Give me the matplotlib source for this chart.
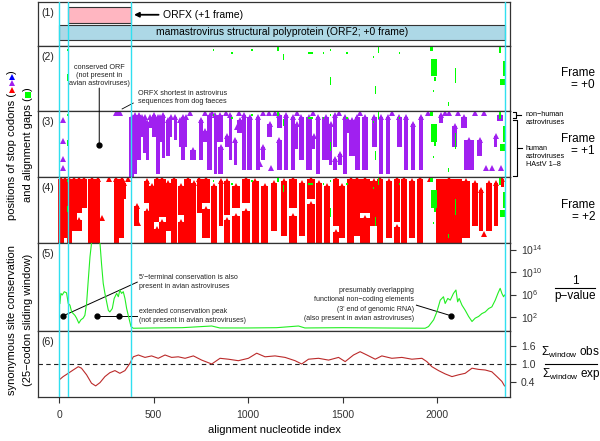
import numpy as np
import matplotlib
matplotlib.use("Agg")
import matplotlib.pyplot as plt
from matplotlib.lines import Line2D
from matplotlib.patches import Rectangle, ConnectionPatch

plt.rcParams['font.family'] = ['Liberation Sans', 'DejaVu Sans']
plt.rcParams['mathtext.fontset'] = 'custom'
plt.rcParams['mathtext.rm'] = 'Liberation Sans'
plt.rcParams['mathtext.it'] = 'Liberation Sans:italic'

# ---- data (alignment nucleotide coordinates) ----
guide_nt = [0, 47, 381, 2356]
orfx_span = (47, 381)
orf2_span = (0, 2356)

# alignment gaps: (start, end, first row, last row)
gaps = [(44, 52, 1, 1), (44, 52, 12, 14), (812, 820, 1, 1), (910, 918, 2, 2),
        (1016, 1024, 1, 1), (1150, 1162, 0, 1), (1182, 1190, 3, 5),
        (1318, 1345, 2, 2), (1395, 1403, 2, 2), (1431, 1439, 1, 1),
        (1431, 1439, 13, 16), (1520, 1528, 2, 2), (1660, 1668, 4, 4),
        (1686, 1694, 0, 2), (1669, 1677, 17, 20), (1796, 1804, 2, 2),
        (1962, 1978, 0, 1), (1965, 2000, 5, 12), (1985, 1995, 13, 14),
        (1976, 1984, 19, 19), (2093, 2101, 9, 15), (2056, 2064, 24, 25),
        (2325, 2340, 0, 2), (2348, 2356, 6, 12), (2330, 2356, 14, 16)]

# stop codons in frame +1: runs (start, end, first row, last row)
stops_f1 = [(375, 392, 2, 27), (393, 410, 1, 26), (415, 430, 1, 20), (432, 442, 2, 10),
            (445, 458, 2, 17), (460, 472, 4, 20), (476, 486, 2, 6), (495, 508, 1, 10),
            (515, 530, 2, 26), (532, 540, 2, 12), (545, 558, 1, 19), (570, 582, 3, 18),
            (586, 596, 2, 10), (610, 620, 2, 11), (635, 648, 3, 14), (650, 662, 2, 20),
            (665, 675, 2, 14), (695, 722, 16, 20), (743, 760, 3, 20), (764, 778, 8, 12),
            (787, 805, 1, 24), (820, 832, 1, 26), (840, 866, 1, 12), (845, 866, 15, 26),
            (880, 893, 10, 14), (900, 912, 1, 20), (926, 938, 12, 22), (946, 963, 3, 8),
            (970, 983, 1, 24), (998, 1016, 2, 24), (1042, 1060, 2, 24),
            (1069, 1087, 15, 20), (1104, 1122, 5, 10), (1156, 1175, 1, 6),
            (1156, 1175, 12, 24), (1192, 1210, 1, 24), (1228, 1246, 2, 24),
            (1251, 1263, 5, 15), (1272, 1290, 2, 20), (1307, 1334, 2, 24),
            (1343, 1352, 10, 15), (1360, 1378, 2, 26), (1396, 1422, 2, 20),
            (1431, 1440, 5, 22), (1449, 1466, 1, 14), (1449, 1466, 20, 24),
            (1480, 1493, 18, 22), (1502, 1519, 2, 26), (1523, 1533, 3, 8),
            (1537, 1563, 3, 18), (1566, 1588, 2, 24), (1606, 1632, 2, 24),
            (1659, 1677, 2, 14), (1694, 1712, 2, 26), (1730, 1747, 2, 26),
            (1791, 1809, 2, 14), (1827, 1844, 2, 24), (1862, 1880, 5, 24),
            (1906, 1924, 2, 24), (2012, 2030, 1, 4), (2083, 2100, 6, 14),
            (2127, 2153, 2, 6), (2145, 2189, 12, 24), (2215, 2233, 12, 18),
            (2303, 2315, 10, 14), (2321, 2347, 1, 3)]
single_f1 = [(21, 3), (21, 12), (21, 20), (21, 24), (300, 0), (312, 0), (324, 0),
             (690, 0), (770, 0), (810, 0), (880, 0), (950, 0), (1080, 0), (1110, 0),
             (1122, 24), (1140, 0), (1260, 0), (1345, 0), (1480, 0), (1590, 0),
             (1760, 0), (1950, 0), (2040, 0), (2060, 0), (2110, 0), (2200, 0),
             (2250, 0), (2259, 24), (2290, 24), (2335, 24), (1060, 22), (940, 6)]

# stop codons in frame +2
stops_f2 = [(-2, 21, 0, 27), (21, 40, 0, 25), (44, 65, 0, 27), (65, 92, 0, 22),
            (92, 118, 0, 14), (92, 118, 18, 22), (118, 145, 0, 12), (154, 190, 0, 27),
            (198, 215, 0, 27), (291, 313, 0, 27), (321, 339, 0, 25), (339, 351, 2, 8),
            (401, 418, 12, 20), (454, 472, 1, 10), (454, 472, 14, 27), (480, 498, 3, 27),
            (507, 524, 0, 18), (507, 524, 22, 27), (533, 560, 0, 16), (533, 560, 19, 27),
            (568, 586, 2, 22), (595, 621, 0, 27), (630, 657, 3, 15), (630, 657, 19, 27),
            (666, 692, 0, 27), (701, 722, 2, 27), (730, 752, 0, 14), (760, 796, 0, 10),
            (760, 796, 13, 25), (804, 831, 3, 27), (849, 866, 1, 20), (875, 902, 1, 15),
            (875, 902, 18, 27), (919, 954, 3, 12), (919, 954, 16, 27), (972, 1007, 0, 10),
            (972, 1007, 14, 27), (1025, 1052, 1, 27), (1069, 1104, 3, 27),
            (1122, 1148, 2, 22), (1175, 1202, 1, 24), (1219, 1254, 0, 12),
            (1219, 1254, 16, 27), (1272, 1299, 2, 24), (1316, 1352, 0, 8),
            (1316, 1352, 11, 27), (1360, 1387, 2, 27), (1404, 1431, 3, 27),
            (1449, 1475, 0, 20), (1449, 1475, 23, 27), (1484, 1510, 3, 25),
            (1528, 1555, 0, 27), (1562, 1588, 0, 24), (1597, 1641, 0, 14),
            (1597, 1641, 17, 27), (1650, 1677, 1, 20), (1686, 1712, 0, 27),
            (1730, 1756, 1, 25), (1774, 1800, 0, 18), (1774, 1800, 21, 27),
            (1809, 1835, 0, 27), (1853, 1880, 1, 25), (1897, 1924, 0, 27),
            (1994, 2127, 0, 27), (2136, 2171, 1, 25), (2189, 2215, 2, 20),
            (2224, 2241, 5, 22), (2259, 2286, 2, 22), (2303, 2321, 2, 20),
            (2338, 2352, 0, 3)]
single_f2 = [(224, 17), (365, 0), (418, 19), (262, 0), (1910, 0), (1960, 0), (2250, 24)]

# synonymous site conservation, log10(1/p)
cons_x = [4, 9, 16, 27, 39, 48, 57, 66, 83, 92, 104, 115, 127, 136, 145, 154, 163, 171,
          180, 198, 216, 224, 233, 242, 251, 260, 268, 281, 291, 304, 313, 321, 330,
          339, 348, 357, 369, 380, 392, 500, 650, 807, 850, 1000, 1150, 1266, 1300,
          1500, 1700, 1936, 1954, 1981, 1998, 2016, 2033, 2042, 2056, 2069, 2086, 2099,
          2108, 2116, 2131, 2148, 2166, 2184, 2201, 2219, 2236, 2254, 2272, 2289, 2307,
          2321, 2333, 2342, 2351, 2356]
cons_logp = [4.4, 6.2, 5.9, 6.5, 6.3, 4.4, 4.1, 2.9, 2.3, 1.8, 0.9, 1.5, 1.8, 2.3, 4.4,
             8.6, 12.7, 15.1, 16.5, 17.0, 15.1, 11.5, 8.0, 6.2, 4.7, 3.2, 2.9, 3.5, 5.3,
             6.2, 5.6, 6.8, 6.2, 6.5, 5.3, 3.5, 1.8, 0.3, 0.0, 0.05, 0.1, 0.4, 0.05, 0.05,
             0.1, 0.4, 0.05, 0.1, 0.05, 0.0, 0.3, 1.5, 2.9, 5.0, 5.6, 4.4, 5.3, 5.0, 6.2,
             6.8, 4.7, 5.3, 4.1, 3.2, 2.1, 1.2, 1.8, 2.1, 2.6, 2.9, 3.5, 3.8, 5.0, 6.2,
             7.1, 6.2, 5.6, 5.9]

# obs / exp ratio
ratio_x = [4, 21, 48, 74, 101, 118, 145, 171, 193, 216, 242, 268, 295, 321, 348, 374,
           392, 419, 454, 489, 524, 560, 595, 630, 666, 710, 754, 807, 851, 895, 948,
           1001, 1045, 1089, 1142, 1195, 1248, 1283, 1319, 1372, 1425, 1478, 1513, 1557,
           1592, 1628, 1672, 1707, 1760, 1813, 1866, 1919, 1945, 1972, 2007, 2042, 2078,
           2113, 2148, 2184, 2219, 2254, 2289, 2316, 2342, 2356]
ratio_y = [0.49, 0.58, 0.69, 0.80, 0.91, 0.86, 0.64, 0.36, 0.27, 0.38, 0.58, 0.71, 0.78,
           0.69, 0.78, 1.02, 1.24, 1.30, 1.22, 1.27, 1.19, 1.30, 1.22, 1.24, 1.19, 1.27,
           1.13, 1.00, 1.19, 1.16, 1.11, 1.19, 1.36, 1.24, 1.27, 1.22, 1.11, 1.00, 1.16,
           1.19, 1.13, 1.22, 1.08, 1.30, 1.41, 1.30, 1.16, 1.27, 1.19, 1.22, 1.16, 1.19,
           1.08, 0.91, 0.78, 0.67, 0.58, 0.64, 0.69, 0.86, 0.82, 0.80, 0.74, 0.58, 0.42,
           0.27]

PURPLE = '#A020F0'
RED = '#FF0000'
GREEN = '#00FF00'
CYAN = '#30E0F0'
FRAME = '#333333'

fig = plt.figure(figsize=(6, 4.41), dpi=100)
W, H = 600.0, 441.0


def fx(x):
    return x / W


def fy(y):
    return 1 - y / H


panel_px = [(2, 46), (46, 111), (111, 177), (177, 243), (243, 331), (331, 397)]
axes = []
for i, (t, b) in enumerate(panel_px):
    ax = fig.add_axes([38 / W, 1 - b / H, 472 / W, (b - t) / H])
    ax.set_xlim(-112, 2385)
    ax.set_xticks([])
    ax.set_yticks([])
    for s in ax.spines.values():
        s.set_color(FRAME)
        s.set_linewidth(0.9)
    for g in guide_nt:
        ax.axvline(g, color=CYAN, lw=1.0, zorder=5)
    ax.annotate('(%d)' % (i + 1), xy=(0, 1), xycoords='axes fraction',
                xytext=(2.5, -4.5), textcoords='offset points', ha='left', va='top',
                fontsize=7.5, color='#222222')
    axes.append(ax)
ax1, ax2, ax3, ax4, ax5, ax6 = axes

# (1) ORF boxes
ax1.set_ylim(1, 0)
ax1.add_patch(Rectangle((orfx_span[0], 0.11), orfx_span[1] - orfx_span[0], 0.37,
                        fc='#FFB6C1', ec=FRAME, lw=0.8, zorder=2))
ax1.add_patch(Rectangle((orf2_span[0], 0.52), orf2_span[1] - orf2_span[0], 0.34,
                        fc='#ADD8E6', ec=FRAME, lw=0.8, zorder=2))
ax1.text(sum(orf2_span) / 2, 0.69, 'mamastrovirus structural polyprotein (ORF2; +0 frame)',
         ha='center', va='center', fontsize=7.5, zorder=6)
ax1.annotate('ORFX (+1 frame)', xy=(396, 0.29), xytext=(548, 0.29), ha='left',
             va='center', fontsize=7.5,
             arrowprops=dict(arrowstyle='-|>', color='black', lw=1.3,
                             mutation_scale=7, shrinkA=1, shrinkB=0))

PAD = 3  # extra half-width of the triangle markers, in nt


def draw_panel(ax, runs, singles, color):
    ax.set_ylim(27.7, -0.9)
    for s, e, t, b in runs:
        ax.bar(s - PAD, b - t + 0.7, width=e - s + 2 * PAD, bottom=t - 0.2, align='edge',
               color=color, lw=0, zorder=2)
        ax.plot((s + e) / 2, t - 0.2, marker='^', ms=4.2, color=color, ls='none',
                mew=0, zorder=2)
    if singles:
        sx, sy = zip(*singles)
        ax.plot(sx, sy, marker='^', ms=3.8, color=color, ls='none', mew=0, zorder=2)
    for s, e, t, b in gaps:
        ax.bar(s, b - t + 0.8, width=e - s, bottom=t - 0.4, align='edge',
               color=GREEN, lw=0, zorder=3)


draw_panel(ax2, [], [], PURPLE)
draw_panel(ax3, stops_f1, single_f1, PURPLE)
draw_panel(ax4, stops_f2, single_f2, RED)

# annotations in (2)/(3)
ax2.text(212, 12, 'conserved ORF\n(not present in\navian astroviruses)', ha='center',
         va='center', fontsize=5.2, linespacing=1.15, color='#222222')
ax3.plot(212, 14, 'o', ms=3.5, color='black', zorder=6)
fig.add_artist(ConnectionPatch(xyA=(212, 17.6), coordsA=ax2.transData,
                               xyB=(212, 14), coordsB=ax3.transData,
                               color='black', lw=0.7))
ax2.text(418, 21.6, 'ORFX shortest in astrovirus\nsequences from dog faeces',
         ha='left', va='center', fontsize=5.2, linespacing=1.15, color='#222222')
ax2.plot([333, 392], [26.8, 24.2], color='black', lw=0.6)

# (5) conservation
ax5.plot(cons_x, cons_logp, color='#22EE22', lw=0.8, zorder=3)
ax5.set_ylim(-0.49, 15.16)
ax5.yaxis.tick_right()
ax5.set_yticks([2, 6, 10, 14])
ax5.set_yticklabels([r'$10^{%d}$' % v for v in [2, 6, 10, 14]])
ax5.tick_params(axis='y', length=4, width=0.8, pad=4, labelsize=7.5, colors=FRAME)

ax5.plot([21, 413], [2.2, 8.2], color='black', lw=0.7)
ax5.plot(21, 2.2, 'o', ms=3.5, color='black', zorder=6)
ax5.text(420, 8.2, "5'\u2212terminal conservation is also\npresent in avian astroviruses",
         ha='left', va='center', fontsize=5, linespacing=1.5, color='#222222')
ax5.plot([201, 413], [2.2, 2.2], color='black', lw=0.7)
ax5.plot([201, 318], [2.2, 2.2], 'o', ms=3.5, color='black', zorder=6)
ax5.text(420, 2.2, 'extended conservation peak\n(not present in avian astroviruses)',
         ha='left', va='center', fontsize=5, linespacing=1.5, color='#222222')
ax5.text(1879, 4.2, 'presumably overlapping\nfunctional non\u2212coding elements\n'
         "(3' end of genomic RNA)\n(also present in avian astroviruses)",
         ha='right', va='center', fontsize=5, linespacing=1.5, color='#222222')
ax5.plot([1890, 2075], [4.1, 2.2], color='black', lw=0.7)
ax5.plot(2075, 2.2, 'o', ms=3.5, color='black', zorder=6)

# (6) obs/exp ratio
ax6.plot(ratio_x, ratio_y, color='#BB2A2A', lw=0.8, zorder=3)
ax6.axhline(1.0, color='#222222', lw=0.8, ls=(0, (4, 3)), zorder=2)
ax6.set_ylim(-0.1, 2.1)
ax6.yaxis.tick_right()
ax6.set_yticks([0.4, 1.0, 1.6])
ax6.set_yticklabels(['0.4', '1.0', '1.6'])
ax6.tick_params(axis='y', length=4, width=0.8, pad=4, labelsize=7.5, colors=FRAME)
ax6.set_xticks([0, 500, 1000, 1500, 2000])
ax6.tick_params(axis='x', length=4, width=0.8, pad=5, labelsize=7.5, colors=FRAME)
ax6.set_xlabel('alignment nucleotide index', fontsize=8, labelpad=4)

# right-side labels
fs_r = 8.5
fig.text(fx(595), fy(79), 'Frame\n= +0', ha='right', va='center', fontsize=fs_r,
         linespacing=1.1)
fig.text(fx(595), fy(145), 'Frame\n= +1', ha='right', va='center', fontsize=fs_r,
         linespacing=1.1)
fig.text(fx(595), fy(211), 'Frame\n= +2', ha='right', va='center', fontsize=fs_r,
         linespacing=1.1)
fig.text(fx(575), fy(281), '1', ha='center', va='center', fontsize=fs_r)
fig.add_artist(Line2D([fx(555), fx(595)], [fy(288), fy(288)], color='black', lw=0.8,
                      transform=fig.transFigure))
fig.text(fx(575), fy(296), 'p\u2212value', ha='center', va='center', fontsize=fs_r)
fig.text(fx(571), fy(352), r'$\Sigma_{\mathrm{window}}$ obs', ha='center', va='center',
         fontsize=fs_r)
fig.add_artist(Line2D([fx(545), fx(597)], [fy(364), fy(364)], color='black', lw=0.8,
                      transform=fig.transFigure))
fig.text(fx(571), fy(374), r'$\Sigma_{\mathrm{window}}$ exp', ha='center', va='center',
         fontsize=fs_r)

# brackets for host groups
def fig_line(xs, ys, lw=0.8):
    fig.add_artist(Line2D([fx(v) for v in xs], [fy(v) for v in ys], color='black',
                          lw=lw, transform=fig.transFigure))


fig_line([513, 516, 516, 513], [112, 112, 118, 118])
fig_line([516, 521], [115, 115])
fig_line([513, 517, 517, 513], [120, 120, 176, 176])
fig_line([517, 522], [148, 148])
fig.text(fx(526), fy(119), 'non\u2212human\nastroviruses', ha='left', va='center',
         fontsize=5.2, linespacing=1.2)
fig.text(fx(526), fy(156), 'human\nastroviruses\nHAstV 1\u20138', ha='left',
         va='center', fontsize=5.2, linespacing=1.2)

# left labels built from pieces (text rotated, symbols upright)
fig.canvas.draw()
renderer = fig.canvas.get_renderer()


def stack_label(x_px, yc_px, pieces, fs=8):
    items = []
    total = 0.0
    for kind, val, col in pieces:
        if kind == 'text':
            t = fig.text(fx(x_px), 0.5, val, rotation=90, ha='center', va='bottom',
                         fontsize=fs, color=col)
            h = t.get_window_extent(renderer).height
        else:
            t = Line2D([fx(x_px)], [0.5], marker=val, ms=4.2, color=col, ls='none',
                       mew=0, transform=fig.transFigure)
            fig.add_artist(t)
            h = 6.5
        items.append((kind, t, h))
        total += h
    y = yc_px + total / 2  # bottom (pixels from top)
    for kind, t, h in items:
        if kind == 'text':
            t.set_y(fy(y))
        else:
            t.set_ydata([fy(y - h / 2)])
        y -= h


stack_label(12, 145, [('text', 'positions of stop codons (', 'black'),
                      ('marker', '^', RED), ('marker', '^', PURPLE),
                      ('marker', '^', '#0000FF'), ('text', ')', 'black')])
stack_label(28, 145, [('text', 'and alignment gaps (', 'black'),
                      ('marker', 's', GREEN), ('text', ')', 'black')])
fig.text(fx(12), fy(320), 'synonymous site conservation', rotation=90, ha='center',
         va='center', fontsize=8)
fig.text(fx(28), fy(320), '(25\u2212codon sliding window)', rotation=90, ha='center',
         va='center', fontsize=8)

fig.savefig('out.png', dpi=100)
